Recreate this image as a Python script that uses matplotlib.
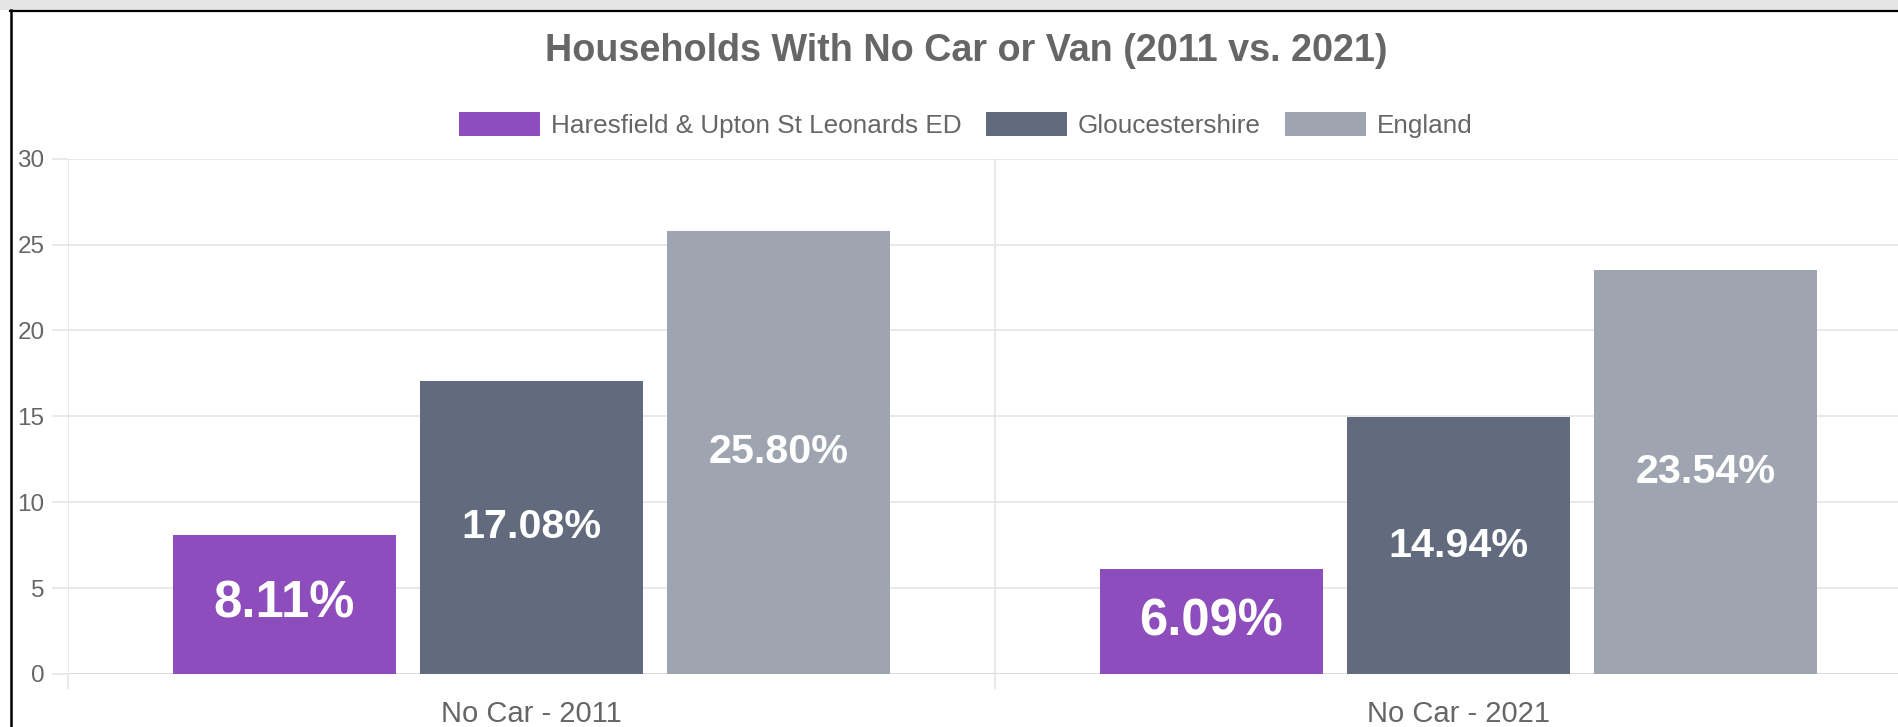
import matplotlib
matplotlib.use("Agg")
import matplotlib.pyplot as plt
from matplotlib.patches import Rectangle
from matplotlib.lines import Line2D
import numpy as np

categories = ["No Car - 2011", "No Car - 2021"]
series_names = ["Haresfield & Upton St Leonards ED", "Gloucestershire", "England"]
haresfield = [8.11, 6.09]
gloucestershire = [17.08, 14.94]
england = [25.80, 23.54]
y_ticks = [0, 5, 10, 15, 20, 25, 30]

colors = ["#8e4dbd", "#616b7d", "#9ea5b1"]
label_sizes = [36.5, 29.7, 29.7]

plt.rcParams['font.family'] = ['Liberation Sans', 'DejaVu Sans']

W, H = 1898, 727
fig = plt.figure(figsize=(W / 100, H / 100), dpi=100)
fig.patch.set_facecolor("white")

# plot area in pixels
left_px, right_px = 68, 1922
top_px, bottom_px = 158.6, 674
ax = fig.add_axes([left_px / W, 1 - bottom_px / H, (right_px - left_px) / W, (bottom_px - top_px) / H])

x = np.arange(len(categories))
all_series = [haresfield, gloucestershire, england]
n = len(all_series)
slot = 0.8 / n
bw = slot * 0.9
grid_c = "#e5e5e5"

for i, (vals, c, fs) in enumerate(zip(all_series, colors, label_sizes)):
    pos = x + (i - (n - 1) / 2) * slot
    ax.bar(pos, vals, width=bw, color=c, zorder=3, label=series_names[i])
    for xp, v in zip(pos, vals):
        ax.text(xp, v / 2, f"{v:.2f}%", ha="center", va="center", color="white",
                fontsize=fs, fontweight="bold", zorder=4)

ax.set_xlim(-0.5, len(categories) - 0.5)
ax.set_ylim(0, 30)
ax.set_yticks(y_ticks)
ax.set_xticks(x)
ax.set_xticklabels(categories)
ax.set_xticks(np.arange(-0.5, len(categories), 1.0), minor=True)

for s in ax.spines.values():
    s.set_visible(False)

ax.grid(axis="y", color=grid_c, linewidth=1.2, zorder=0)
ax.grid(axis="x", which="minor", color=grid_c, linewidth=1.2, zorder=0)
ax.grid(axis="x", which="major", visible=False)

ax.tick_params(axis="y", length=11.5, width=1.2, color=grid_c, pad=5.5,
               labelsize=17.5, labelcolor="#666666")
ax.tick_params(axis="x", which="major", length=0, pad=18.5, labelsize=21, labelcolor="#666666")
ax.tick_params(axis="x", which="minor", length=11, width=1.2, color=grid_c)
ax.axhline(0, color="#dcdcdc", linewidth=1.4, zorder=2)

# title
fig.text(966 / W, 1 - 51 / H, "Households With No Car or Van (2011 vs. 2021)",
         ha="center", va="center", fontsize=27.2, fontweight="bold", color="#666666")

# legend
leg = fig.legend(loc="center", bbox_to_anchor=(966 / W, 1 - 125 / H), ncol=3, frameon=False,
                 fontsize=18.8, handlelength=3.1, handleheight=1.0, handletextpad=0.42,
                 columnspacing=0.92, labelcolor="#666666")

# page frame
fig.patches.append(Rectangle((0, 1 - 10 / H), 1, 10 / H, transform=fig.transFigure,
                             facecolor="#e5e5e5", edgecolor="none", zorder=0))
fig.add_artist(Line2D([10 / W, 1], [1 - 10.5 / H, 1 - 10.5 / H], transform=fig.transFigure,
                      color="black", linewidth=1.6))
fig.add_artist(Line2D([10.5 / W, 10.5 / W], [0, 1 - 10 / H], transform=fig.transFigure,
                      color="black", linewidth=1.8))

fig.savefig("out.png", dpi=100)
